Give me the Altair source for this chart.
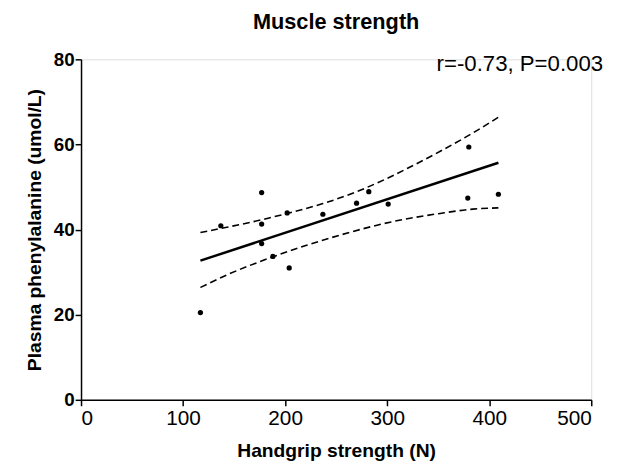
import altair as alt
import pandas as pd

# data
handgrip = [117, 137, 177, 177, 177, 188, 202, 204, 237, 270, 282, 301, 380, 379, 409]
phe = [20.5, 40.9, 48.7, 41.3, 36.7, 33.7, 43.9, 31.0, 43.6, 46.2, 48.9, 46.0, 59.4, 47.4, 48.3]

fit_x = [117, 409]
fit_y = [32.7, 55.7]

upper_x = [117, 143, 177, 202, 237, 270, 298, 320, 352, 384, 409]
upper_y = [39.3, 40.55, 42.3, 43.8, 46.1, 48.9, 51.8, 54.4, 58.4, 62.7, 66.4]

lower_x = [117, 143, 188, 221, 256, 304, 352, 384, 409]
lower_y = [26.4, 29.35, 33.6, 36.3, 38.85, 41.8, 43.8, 44.8, 45.1]

stat_label = ["r=-0.73, P=0.003"]
x_ticks = [0, 100, 200, 300, 400, 500]
y_ticks = [0, 20, 40, 60, 80]

pts = pd.DataFrame({"x": handgrip, "y": phe})
fit = pd.DataFrame({"x": fit_x, "y": fit_y})
up = pd.DataFrame({"x": upper_x, "y": upper_y})
lo = pd.DataFrame({"x": lower_x, "y": lower_y})

W, H = 517, 345
FONT = "Liberation Sans"

xsc = alt.Scale(domain=[0, 500], nice=False)
ysc = alt.Scale(domain=[0, 80], nice=False)
xax = alt.Axis(values=x_ticks, title="Handgrip strength (N)", grid=False,
               labelFontSize=21, labelFont=FONT, labelColor="black", labelPadding=2,
               titleFontSize=19.5, titleFont=FONT, titleFontWeight="bold",
               titleColor="black", titlePadding=13, tickSize=6,
               domainColor="black", tickColor="black", domainWidth=1.5, tickWidth=1.5)
yax = alt.Axis(values=y_ticks, title="Plasma phenylalanine (umol/L)", grid=False,
               labelFontSize=19, labelFont=FONT, labelFontWeight="bold", labelColor="black",
               labelPadding=1,
               titleFontSize=19.5, titleFont=FONT, titleFontWeight="bold",
               titleColor="black", titlePadding=9, tickSize=6,
               domainColor="black", tickColor="black", domainWidth=1.5, tickWidth=1.5)

points = alt.Chart(pts).mark_circle(size=28, color="black", opacity=1).encode(
    x=alt.X("x:Q", scale=xsc, axis=xax),
    y=alt.Y("y:Q", scale=ysc, axis=yax),
)
line = alt.Chart(fit).mark_line(color="black", strokeWidth=2.5).encode(
    x=alt.X("x:Q", scale=xsc), y=alt.Y("y:Q", scale=ysc))
upper = alt.Chart(up).mark_line(color="black", strokeWidth=1.6, strokeDash=[7, 4],
                                interpolate="monotone").encode(
    x=alt.X("x:Q", scale=xsc), y=alt.Y("y:Q", scale=ysc))
lower = alt.Chart(lo).mark_line(color="black", strokeWidth=1.6, strokeDash=[7, 4],
                                interpolate="monotone").encode(
    x=alt.X("x:Q", scale=xsc), y=alt.Y("y:Q", scale=ysc))
note = alt.Chart(pd.DataFrame({"t": stat_label})).mark_text(
    align="right", baseline="middle", fontSize=22.5, font=FONT, color="black"
).encode(text="t:N", x=alt.value(W + 12), y=alt.value(5))

chart = alt.layer(upper, lower, line, points, note).properties(
    width=W, height=H,
    title=alt.TitleParams("Muscle strength", fontSize=22, font=FONT, fontWeight="bold",
                          color="black", anchor="middle", offset=17),
    autosize=alt.AutoSizeParams(type="none"),
    padding={"left": 74, "top": 49, "right": 20, "bottom": 61},
).configure_view(stroke=None).configure(background="white")

chart.save("out.html", embed_options={"renderer": "svg", "actions": False})
